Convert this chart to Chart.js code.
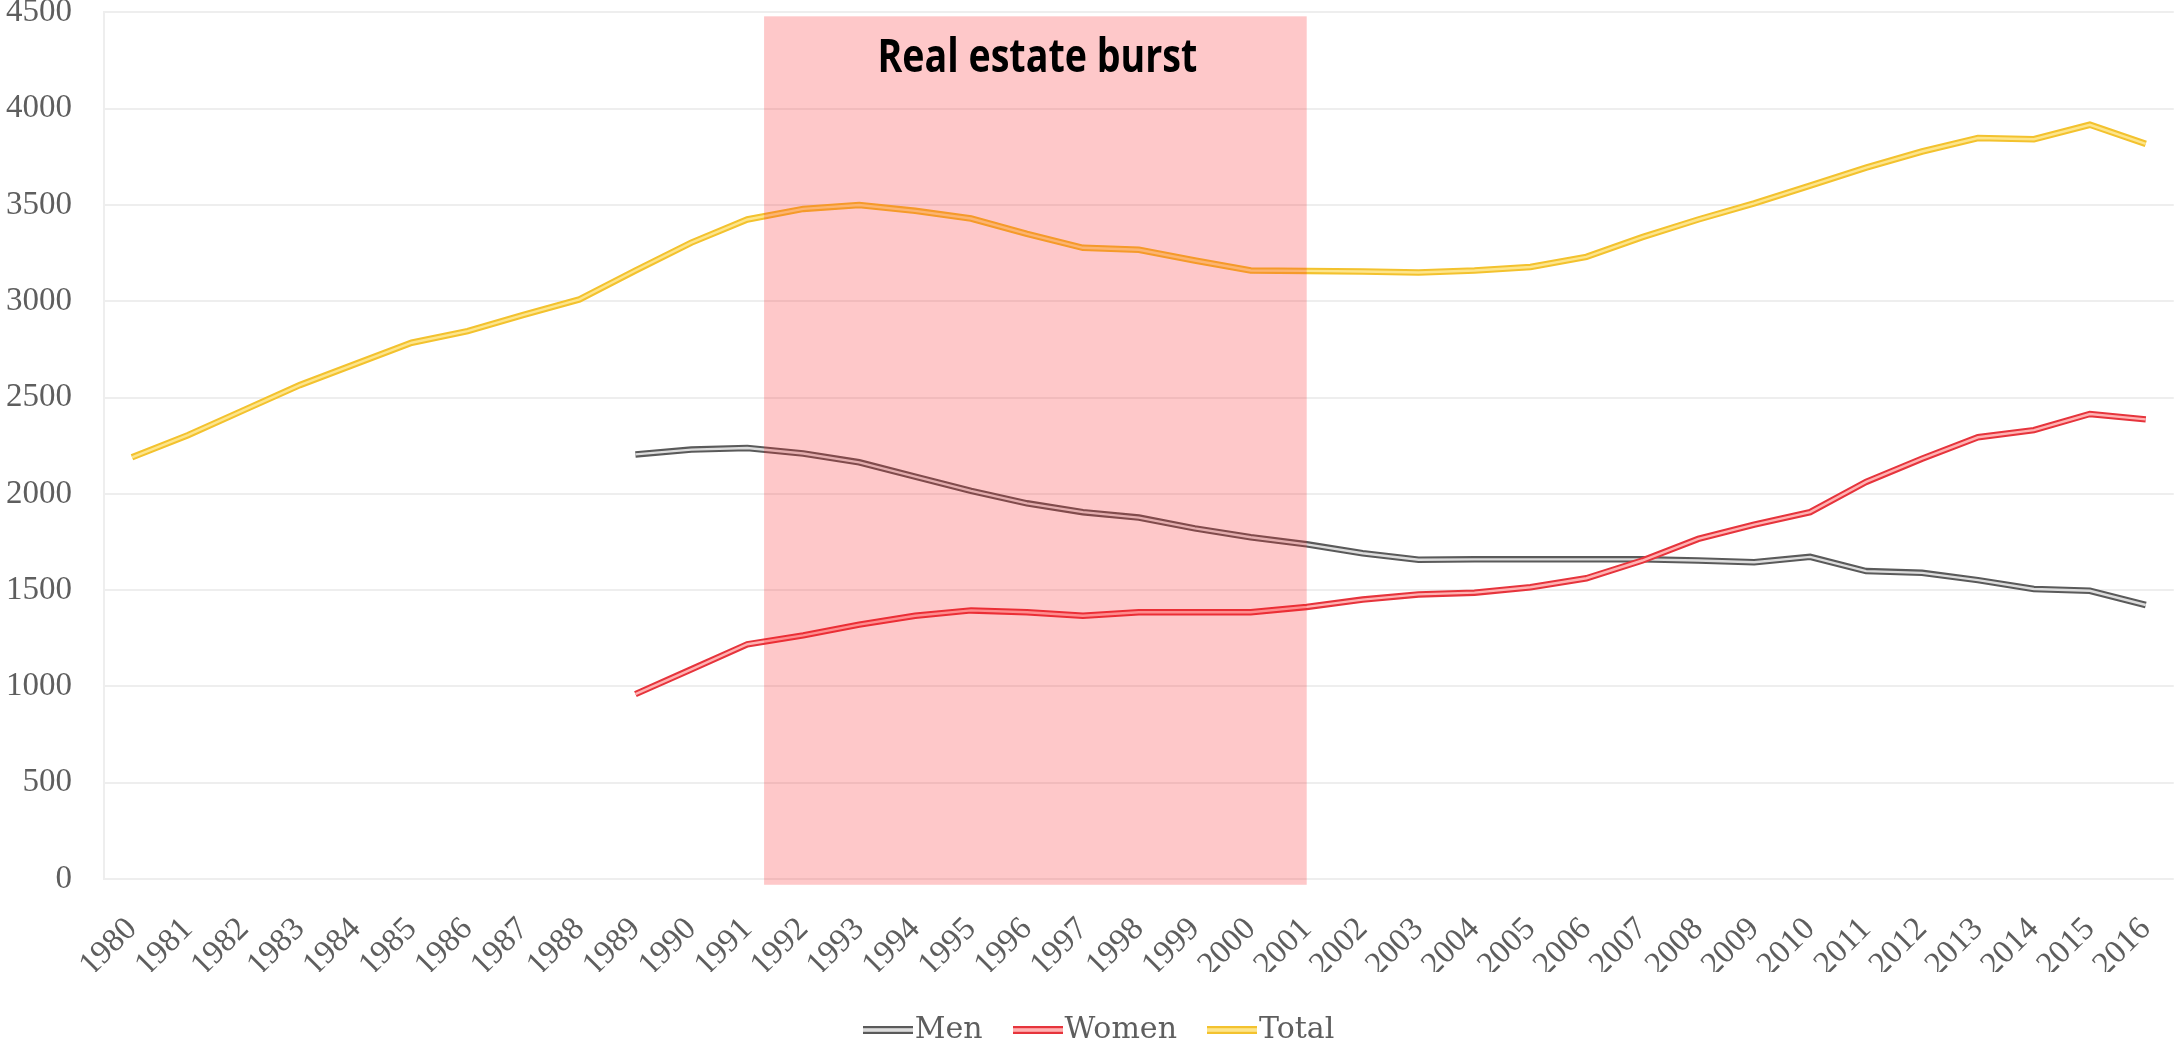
<!DOCTYPE html>
<html><head><meta charset="utf-8">
<script src="https://cdn.jsdelivr.net/npm/chart.js@4.4.0/dist/chart.umd.min.js"></script>
<style>html,body{margin:0;padding:0;background:#fff;overflow:hidden}canvas{display:block}</style>
</head><body>
<canvas id="c" width="2177" height="1052"></canvas>
<script>
// ---- data ----
const years = ['1980','1981','1982','1983','1984','1985','1986','1987','1988','1989','1990','1991','1992','1993','1994','1995','1996','1997','1998','1999','2000','2001','2002','2003','2004','2005','2006','2007','2008','2009','2010','2011','2012','2013','2014','2015','2016'];
const men = [null,null,null,null,null,null,null,null,null,2205,2230,2238,2210,2164,2090,2016,1951,1905,1877,1821,1775,1738,1692,1658,1660,1660,1660,1660,1654,1645,1673,1599,1590,1552,1506,1497,1423];
const women = [null,null,null,null,null,null,null,null,null,960,1089,1219,1265,1321,1367,1395,1385,1367,1385,1385,1385,1413,1451,1478,1487,1515,1562,1654,1766,1840,1905,2062,2183,2294,2331,2415,2387];
const total = [2190,2305,2435,2565,2675,2785,2845,2930,3010,3160,3305,3425,3480,3500,3470,3430,3350,3278,3268,3212,3160,3158,3155,3150,3160,3178,3231,3333,3425,3509,3601,3694,3778,3848,3842,3917,3818];
const seriesNames = ['Men','Women','Total'];
const yMin = 0, yMax = 4500, yStep = 500;
const burstText = 'Real estate burst';
const burstStartYear = 1991.3, burstEndYear = 2001.0;

// ---- styles ----
const outerColors = ['#5a5a5a','#e6343c','#f3c22e'];
const innerColors = ['#dcdcdc','#ffb2b2','#fde58c'];
const seriesData = [men, women, total];
const serif = '"Liberation Serif", "DejaVu Serif", serif';
const legendSerif = '"DejaVu Serif", "Liberation Serif", serif';
const textGray = '#5e5e5e';
const gridColor = '#eeeeee';

function legendLine(outer, inner) {
  const c = document.createElement('canvas');
  c.width = 50; c.height = 10;
  const g = c.getContext('2d');
  g.fillStyle = inner; g.fillRect(0, 2, 50, 6);
  g.fillStyle = outer; g.fillRect(0, 1, 50, 2.2); g.fillRect(0, 6.8, 50, 2.2);
  return c;
}
const legendIcons = seriesNames.map((n, k) => legendLine(outerColors[k], innerColors[k]));

const datasets = [];
seriesNames.forEach((name, k) => {
  const base = (2 - k) * 2;
  datasets.push({label: name, data: seriesData[k], borderColor: outerColors[k], backgroundColor: outerColors[k],
    borderWidth: 6.5, pointRadius: 0, tension: 0, order: base + 1, isInner: false, seriesIndex: k});
  datasets.push({label: name, data: seriesData[k], borderColor: innerColors[k], backgroundColor: innerColors[k],
    borderWidth: 2.4, pointRadius: 0, tension: 0, order: base, isInner: true, seriesIndex: k});
});

const burstPlugin = {
  id: 'burst',
  beforeDraw(chart) {
    // shift the legend's centring band slightly right, as in the original
    if (chart.legend) chart.legend.left = 33;
  },
  afterDatasetsDraw(chart) {
    const {ctx, scales: {x, y}} = chart;
    const x0 = x.getPixelForValue(burstStartYear - Number(years[0]));
    const x1 = x.getPixelForValue(burstEndYear - Number(years[0]));
    const yTop = y.getPixelForValue(4480);
    const yBot = y.getPixelForValue(-30);
    ctx.save();
    ctx.fillStyle = 'rgba(250, 28, 34, 0.245)';
    ctx.fillRect(x0, yTop, x1 - x0, yBot - yTop);
    ctx.font = 'bold 46px "Open Sans", "Liberation Sans", sans-serif';
    const w = ctx.measureText(burstText).width;
    const cx = (x0 + x1) / 2 + 2;
    ctx.setTransform(320 / w, 0, 0, 1, cx, y.getPixelForValue(4190));
    ctx.fillStyle = '#000';
    ctx.textAlign = 'center';
    ctx.textBaseline = 'alphabetic';
    ctx.fillText(burstText, 0, 0);
    ctx.restore();
    ctx.setTransform(1, 0, 0, 1, 0, 0);
  }
};

const chart = new Chart(document.getElementById('c'), {
  type: 'line',
  data: {labels: years, datasets},
  options: {
    responsive: false,
    animation: false,
    events: [],
    devicePixelRatio: 1,
    layout: {padding: {left: 0, right: 0, top: 0, bottom: -3}},
    plugins: {
      tooltip: {enabled: false},
      legend: {
        position: 'bottom',
        labels: {
          usePointStyle: true,
          pointStyleWidth: 24,
          padding: 43,
          color: textGray,
          font: {family: legendSerif, size: 30},
          generateLabels(chart) {
            return chart.data.datasets.map((ds, i) => ({ds, i}))
              .filter(o => !o.ds.isInner)
              .map(o => ({
                text: o.ds.label,
                fillStyle: o.ds.borderColor,
                strokeStyle: o.ds.borderColor,
                lineWidth: 0,
                pointStyle: legendIcons[o.ds.seriesIndex],
                hidden: false,
                datasetIndex: o.i,
                fontColor: textGray
              }));
          }
        }
      }
    },
    scales: {
      x: {
        offset: true,
        grid: {display: false, drawTicks: true, tickLength: 31, tickColor: 'rgba(0,0,0,0)'},
        border: {display: false},
        ticks: {
          autoSkip: false, minRotation: 45, maxRotation: 45,
          padding: 0, labelOffset: 0,
          color: textGray,
          font: {family: serif, size: 33}
        },
        afterFit(scale) { scale.height = 93; }
      },
      y: {
        min: yMin, max: yMax,
        grid: {color: gridColor, lineWidth: 2, drawTicks: true, tickLength: 32, tickColor: 'rgba(0,0,0,0)'},
        border: {display: true, color: gridColor, width: 2},
        ticks: {
          stepSize: yStep, padding: 0,
          color: textGray,
          font: {family: serif, size: 33, lineHeight: 0.757},
          callback: v => String(v)
        },
        afterFit(scale) { scale.width = 104; }
      }
    }
  },
  plugins: [burstPlugin]
});
// re-run a full, consistent update once everything has settled
chart.update();
const refresh = () => { chart.update(); };
requestAnimationFrame(refresh);
setTimeout(refresh, 0);
setTimeout(refresh, 150);
window.addEventListener('load', refresh);
if (document.fonts && document.fonts.ready) document.fonts.ready.then(refresh);
</script>
</body></html>
